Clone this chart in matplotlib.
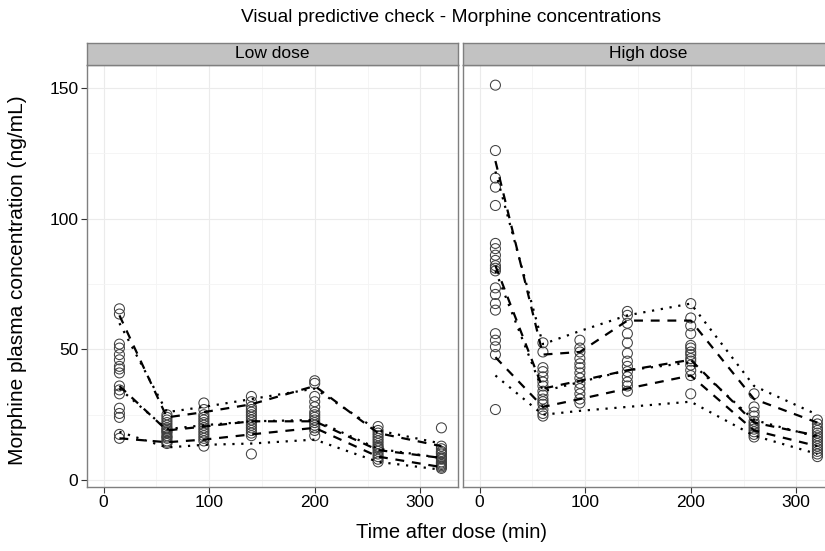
import matplotlib
matplotlib.use("Agg")
import matplotlib.pyplot as plt
from matplotlib.ticker import MultipleLocator

plt.rcParams['font.family'] = ['Liberation Sans', 'DejaVu Sans']

# sampling times (min)
times = [15, 60, 95, 140, 200, 260, 320]

# observed concentrations (ng/mL), one list per time point
low_obs = [
    [65.5, 63.5, 52, 50.5, 48, 46, 43.5, 42.5, 41, 36, 34.5, 33, 27.5, 25.5, 24, 17.5, 16],
    [25, 24, 23, 22, 21, 20, 19.5, 19, 18.5, 18, 17, 16.5, 16, 15, 14.5, 14],
    [29.5, 27, 25, 24, 23, 22, 21, 20, 19, 18, 17, 16, 15, 13],
    [32, 30, 28, 27, 26, 25, 24, 23, 22, 21, 20, 19, 18, 17, 10],
    [38, 37, 32, 30, 28, 26, 25, 24, 23, 22, 21, 20, 19, 17],
    [20.5, 19, 18, 17, 16, 15, 14, 13, 12.5, 12, 11, 10, 9, 8, 7],
    [20, 13, 12, 11, 10.5, 10, 9, 8.5, 8, 7, 6.5, 6, 5.5, 5, 4.5],
]
high_obs = [
    [151, 126, 115.5, 112, 105, 90.5, 88.5, 86, 84, 82, 81, 80, 73.5, 71, 67.5, 65, 56, 53.5, 51, 48, 27],
    [52.5, 49, 43, 41.5, 39.5, 37.5, 36, 34, 32.5, 31, 30, 29, 27, 25.5, 24.5],
    [53.5, 50.5, 49, 46.5, 44.5, 43, 41, 39, 37, 35, 33, 31, 29.5],
    [64.5, 63, 60, 56, 52.5, 48.5, 45.5, 43.5, 41.5, 39.5, 37.5, 36, 34],
    [67.5, 62, 59, 56, 51.5, 50.5, 49, 48, 46.5, 45.5, 44, 42, 40, 33],
    [33, 28, 26, 24.5, 22.5, 21.5, 20.5, 19.5, 18.5, 17.5, 16.5],
    [23, 21.5, 20, 19, 18, 17, 16, 15, 14, 13, 12, 11, 10, 9],
]

# observed percentiles (dashed) and predicted percentiles (dotted)
low_obs_hi = [63, 24, 26, 29, 36, 18, 13]
low_obs_med = [36, 19, 20.5, 22.5, 22.5, 11.5, 8.5]
low_obs_lo = [16, 14.5, 15.5, 17.5, 20, 9, 5]
low_pred_hi = [60, 26, 28, 31, 35, 19, 14]
low_pred_med = [35, 19.5, 21, 22.5, 23, 12, 8.5]
low_pred_lo = [18.5, 12.5, 13.5, 14, 15.5, 7, 4]

high_obs_hi = [122, 48, 49, 61, 61, 31, 22]
high_obs_med = [82, 35, 38, 42, 46, 22, 17]
high_obs_lo = [47, 28, 31, 35, 40, 19, 13]
high_pred_hi = [118, 52, 57, 63, 67.5, 36, 25]
high_pred_med = [80, 34, 37.5, 42, 45, 23, 16.5]
high_pred_lo = [40, 25, 26.5, 28, 30, 17, 10]

panels = [
    ("Low dose", low_obs, [low_obs_hi, low_obs_med, low_obs_lo], [low_pred_hi, low_pred_med, low_pred_lo]),
    ("High dose", high_obs, [high_obs_hi, high_obs_med, high_obs_lo], [high_pred_hi, high_pred_med, high_pred_lo]),
]

W, H = 825, 551
fig = plt.figure(figsize=(W / 100, H / 100), dpi=100)

pw = 371.6
lefts = [86.7, 462.7]
top, bottom, strip_top = 65.0, 486.7, 42.7

for i, (name, obs, obs_lines, pred_lines) in enumerate(panels):
    ax = fig.add_axes([lefts[i] / W, 1 - bottom / H, pw / W, (bottom - top) / H])
    ax.set_xlim(-16, 336)
    ax.set_ylim(-2.5, 158.7)
    ax.xaxis.set_major_locator(MultipleLocator(100))
    ax.xaxis.set_minor_locator(MultipleLocator(50))
    ax.yaxis.set_major_locator(MultipleLocator(50))
    ax.yaxis.set_minor_locator(MultipleLocator(25))
    ax.grid(True, which='major', color='#ebebeb', lw=0.8)
    ax.grid(True, which='minor', color='#f4f4f4', lw=0.6)
    ax.set_axisbelow(True)
    for s in ax.spines.values():
        s.set_color('#7f7f7f')
        s.set_linewidth(1.0)
    ax.tick_params(which='minor', length=0)
    ax.tick_params(which='major', length=4, width=0.8, color='#333333',
                   labelsize=12.5, labelcolor='black', pad=2)
    if i == 1:
        ax.tick_params(axis='y', labelleft=False, length=0)

    for t, vals in zip(times, obs):
        ax.scatter([t] * len(vals), vals, s=52, facecolors='none',
                   edgecolors='#404040', linewidths=0.75, zorder=2)
    for line in obs_lines:
        ax.plot(times, line, color='black', lw=1.6, ls=(0, (4, 3.5)), zorder=3)
    for line in pred_lines:
        ax.plot(times, line, color='black', lw=1.6, ls=(0, (1, 3)), zorder=3)

    sax = fig.add_axes([lefts[i] / W, 1 - top / H, pw / W, (top - strip_top) / H])
    sax.set_facecolor('#c2c2c2')
    sax.set_xticks([])
    sax.set_yticks([])
    for s in sax.spines.values():
        s.set_color('#7f7f7f')
        s.set_linewidth(1.0)
    sax.text(0.5, 0.5, name, transform=sax.transAxes, ha='center', va='center',
             fontsize=12.5, color='black')

fig.text(451 / W, 1 - 18 / H, "Visual predictive check - Morphine concentrations",
         ha='center', va='center', fontsize=13.8)
fig.text(451 / W, 1 - 532 / H, "Time after dose (min)",
         ha='center', va='center', fontsize=14.5)
fig.text(18 / W, 1 - 280 / H, "Morphine plasma concentration (ng/mL)",
         ha='center', va='center', rotation=90, fontsize=15)

fig.savefig("out.png", dpi=100)
